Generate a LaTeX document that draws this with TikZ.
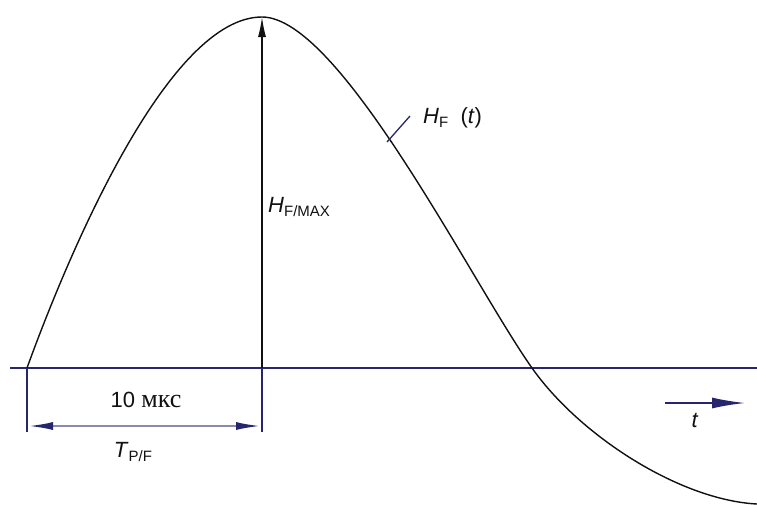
\documentclass[tikz,border=0pt]{standalone}
\usepackage{fontspec}
\setmainfont{Liberation Sans}
\newfontfamily\cyrserif{Liberation Serif}
\usetikzlibrary{arrows.meta}
\definecolor{axis}{HTML}{26266E}
\definecolor{dim}{HTML}{8A8AB0}
\definecolor{ink}{HTML}{111111}
\newcommand{\lo}[1]{\raisebox{-0.35ex}{\fontsize{15}{15}\selectfont #1}}
\tikzset{
  x=1pt,y=-1pt,
  every node/.style={font=\fontsize{22}{26}\selectfont,text=ink,inner sep=0pt},
  axisline/.style={draw=axis,line width=1.3pt},
  extline/.style={draw=axis,line width=1.5pt},
  dimline/.style={{Latex[length=26pt,width=8pt,color=axis]}-{Latex[length=26pt,width=8pt,color=axis]},draw=dim,line width=2.6pt},
  maxarrow/.style={-{Latex[length=20pt,width=8pt]},draw=ink,line width=1.3pt},
  timearrow/.style={-{Latex[length=33pt,width=11pt]},draw=axis,line width=1.6pt},
  curve/.style={draw=ink,line width=1.4pt},
  leader/.style={draw=axis,line width=1.3pt},
}

\begin{document}
\begin{tikzpicture}
\useasboundingbox (0,0) rectangle (757,504);

% Key points
\coordinate (start) at (27,368);
\coordinate (peak) at (262,17);
\coordinate (foot) at (262,368);
\coordinate (cross) at (532,368);
\coordinate (tail) at (757,504);
\coordinate (axL) at (10,368);
\coordinate (axR) at (757,368);
\coordinate (extL) at (27,432);
\coordinate (extR) at (262,432);
\coordinate (dimL) at (27,426);
\coordinate (dimR) at (262,426);
\coordinate (lead1) at (387,142);
\coordinate (lead2) at (410,116);
\coordinate (tA) at (665,403);
\coordinate (tB) at (745,403);

% Time axis
\draw[axisline] (axL) -- (axR);

% Field pulse
\draw[curve] (start) .. controls (72,244) and (170,17) .. (peak)
  .. controls (340,17) and (472,283) .. (cross)
  .. controls (580,436) and (680,500) .. (tail);

% Amplitude
\draw[maxarrow] (foot) -- (peak);
\node[anchor=base west] (hmax) at (268,212) {\textit{H}\lo{F/MAX}};

% Curve label
\draw[leader] (lead1) -- (lead2);
\node[anchor=base west] (hf) at (423,123) {\textit{H}\lo{F}\ \ (\textit{t})};

% Rise time dimension
\draw[extline] (start) -- (extL);
\draw[extline] (foot) -- (extR);
\draw[dimline] (dimL) -- (dimR);
\node[anchor=base] (dur) at (146,407) {10 {\cyrserif\fontsize{26}{26}\selectfont мкс}};
\node[anchor=base] (tpf) at (133,457) {\textit{T}\lo{P/F}};

% Time direction
\draw[timearrow] (tA) -- (tB);
\node[anchor=base] (tlab) at (695,427) {\textit{t}};

\end{tikzpicture}
\end{document}
